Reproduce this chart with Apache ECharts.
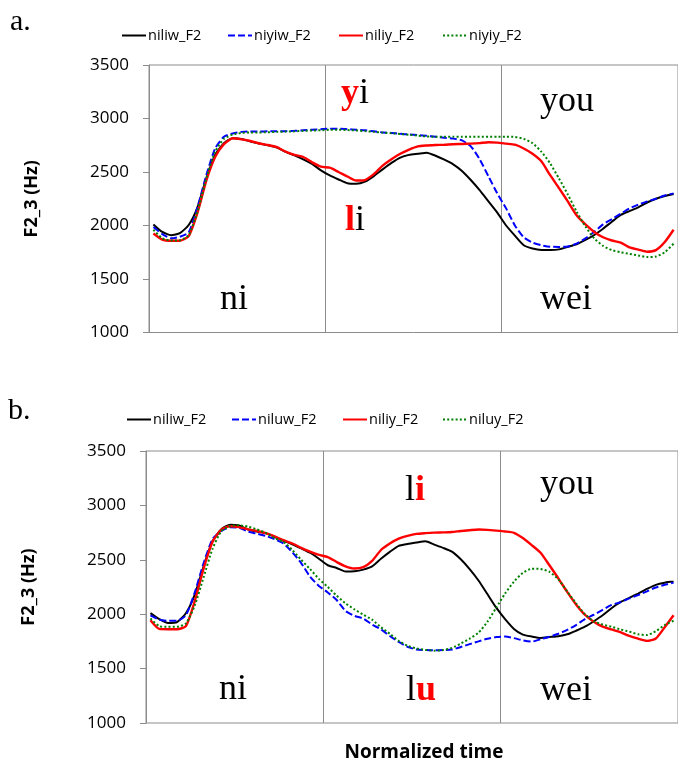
<!DOCTYPE html>
<html>
<head>
<meta charset="utf-8">
<script src="https://cdn.jsdelivr.net/npm/echarts@6/dist/echarts.min.js"></script>
<style>
  html, body { margin: 0; padding: 0; background: #fff; }
  #chart { width: 678px; height: 765px; }
</style>
</head>
<body>
<div id="chart"></div>
<script>
// F2 trajectories (Hz) sampled at 60 normalized time steps; 20 steps per syllable.
const steps = 60;
const syllableSteps = 20;
const yMin = 1000, yMax = 3500, yStep = 500;

// Panel a: niliw / niyiw / niliy / niyiy
const a_niliw = [2010,1940,1910,1928,2005,2170,2440,2660,2770,2815,2808,2785,2766,2750,2728,2688,2656,2618,2576,2515,
  2468,2430,2395,2390,2410,2462,2525,2585,2635,2660,2670,2680,2652,2615,2572,2510,2425,2330,2225,2120,
  2000,1905,1815,1785,1772,1772,1777,1800,1825,1865,1911,1970,2035,2098,2135,2170,2215,2250,2275,2295];
const a_niyiw = [1985,1920,1880,1895,1935,2170,2470,2720,2830,2860,2875,2878,2878,2880,2880,2882,2885,2890,2895,2900,
  2905,2905,2900,2895,2890,2880,2870,2865,2858,2850,2845,2838,2830,2820,2812,2795,2740,2620,2460,2300,
  2160,2000,1890,1840,1815,1802,1800,1803,1830,1880,1942,2010,2060,2110,2160,2195,2225,2250,2280,2300];
const a_niliy = [1925,1868,1857,1858,1900,2120,2420,2640,2760,2815,2805,2790,2766,2752,2732,2690,2660,2640,2590,2550,
  2540,2500,2458,2420,2425,2480,2560,2620,2670,2710,2740,2748,2752,2755,2760,2762,2765,2770,2778,2775,
  2765,2755,2720,2670,2600,2470,2350,2225,2095,2010,1940,1890,1860,1840,1795,1775,1755,1770,1845,1960];
const a_niyiy = [1960,1880,1860,1862,1910,2130,2440,2690,2810,2850,2865,2870,2870,2872,2875,2878,2880,2885,2888,2890,
  2895,2895,2892,2888,2882,2875,2868,2862,2855,2848,2840,2832,2830,2830,2830,2830,2830,2830,2830,2830,
  2830,2828,2810,2770,2690,2580,2440,2290,2130,1990,1880,1810,1770,1750,1735,1720,1705,1710,1750,1830];

// Panel b: niliw / niluw / niliy / niluy
const b_niliw = [2010,1955,1920,1928,2008,2180,2440,2670,2780,2823,2815,2778,2760,2745,2712,2675,2643,2605,2565,2510,
  2450,2425,2392,2395,2410,2440,2510,2573,2628,2645,2658,2670,2640,2610,2575,2505,2415,2310,2185,2060,
  1955,1865,1813,1795,1782,1790,1798,1815,1848,1885,1935,1990,2055,2110,2150,2190,2232,2270,2290,2300];
const b_niluw = [1990,1950,1940,1940,1990,2200,2470,2690,2765,2800,2795,2760,2740,2720,2690,2650,2570,2470,2345,2260,
  2200,2130,2030,1985,1960,1905,1860,1800,1745,1700,1675,1670,1668,1670,1675,1698,1725,1750,1775,1790,
  1795,1780,1760,1748,1770,1792,1820,1855,1900,1955,1995,2040,2085,2110,2145,2175,2210,2245,2270,2290];
const b_niliy = [1945,1865,1862,1862,1890,2120,2420,2665,2778,2808,2800,2780,2765,2745,2715,2680,2650,2610,2575,2545,
  2525,2480,2440,2420,2432,2490,2590,2650,2695,2720,2738,2745,2750,2752,2755,2765,2772,2778,2775,2768,
  2760,2748,2700,2635,2565,2450,2330,2205,2090,1995,1930,1885,1860,1835,1800,1775,1755,1777,1880,1990];
const b_niluy = [1960,1890,1884,1884,1915,2080,2340,2600,2765,2810,2818,2805,2780,2748,2700,2665,2590,2500,2415,2325,
  2250,2170,2100,2045,1995,1950,1880,1820,1755,1710,1685,1672,1665,1670,1690,1730,1775,1830,1930,2060,
  2190,2300,2380,2418,2415,2390,2320,2210,2100,2000,1935,1905,1885,1860,1840,1815,1808,1845,1900,1940];

const AXIS_GREY = '#8c8c8c';
const SANS = 'Open Sans';
const SERIF = 'Liberation Serif';

// line styles shared by both panels
const styles = {
  niliw_F2: { color: '#000000', width: 2,   type: 'solid' },
  niyiw_F2: { color: '#0000ff', width: 2,   type: [7, 3] },
  niluw_F2: { color: '#0000ff', width: 2,   type: [7, 3] },
  niliy_F2: { color: '#ff0000', width: 2.4, type: 'solid' },
  niyiy_F2: { color: '#008000', width: 2,   type: [2, 2.2] },
  niluy_F2: { color: '#008000', width: 2,   type: [2, 2.2] }
};

function toPoints(values) {
  return values.map((v, i) => [i + 0.5, v]);
}

function lineSeries(name, values, idx) {
  const s = styles[name];
  return {
    name: name,
    type: 'line',
    xAxisIndex: idx,
    yAxisIndex: idx,
    data: toPoints(values),
    symbol: 'none',
    smooth: 0.2,
    color: s.color,
    lineStyle: { color: s.color, width: s.width, type: s.type },
    emphasis: { disabled: true },
    z: 3
  };
}

function xAxisFor(idx, withName) {
  const ax = {
    type: 'value',
    gridIndex: idx,
    min: 0,
    max: steps,
    interval: syllableSteps,
    axisLine: { show: false },
    axisTick: { show: false },
    axisLabel: { show: false },
    splitLine: { show: true, lineStyle: { color: AXIS_GREY, width: 1 } }
  };
  if (withName) {
    ax.name = 'Normalized time';
    ax.nameLocation = 'middle';
    ax.nameGap = 20;
    ax.nameTextStyle = {
      fontFamily: SANS, fontWeight: 'bold', fontSize: 19, color: '#000',
      padding: [0, 0, 0, 24]
    };
  }
  return ax;
}

function yAxisFor(idx) {
  return {
    type: 'value',
    gridIndex: idx,
    min: yMin,
    max: yMax,
    interval: yStep,
    name: 'F2_3 (Hz)',
    nameLocation: 'middle',
    nameGap: 108,
    nameTextStyle: { fontFamily: SANS, fontWeight: 'bold', fontSize: 18, color: '#000' },
    axisLine: { show: true, lineStyle: { color: AXIS_GREY, width: 1 } },
    axisTick: { show: true, length: 6, lineStyle: { color: AXIS_GREY } },
    axisLabel: {
      fontFamily: SANS, fontSize: 17, color: '#000', margin: 20,
      formatter: (v) => String(v)
    },
    splitLine: { show: false }
  };
}

function legendItem(name, left, top) {
  return {
    data: [name],
    left: left,
    top: top,
    itemWidth: 24,
    itemHeight: 14,
    itemGap: 0,
    selectedMode: false,
    itemStyle: { opacity: 0 },
    textStyle: { fontFamily: SANS, fontSize: 14.5, color: '#000', padding: [0, 0, 0, -3] }
  };
}

// syllable labels drawn inside the panels
function syllable(left, baseline, rich) {
  return {
    type: 'text',
    left: left,
    top: baseline - 31,
    z: 10,
    silent: true,
    style: {
      text: rich,
      rich: {
        k: { fontFamily: SERIF, fontSize: 36, fill: '#000000', lineHeight: 40 },
        r: { fontFamily: SERIF, fontSize: 36, fill: '#ff0000', fontWeight: 'bold', lineHeight: 40 }
      }
    }
  };
}

function panelLetter(text, left, baseline) {
  return {
    type: 'text',
    left: left,
    top: baseline - 25,
    silent: true,
    style: { text: text, fontFamily: SERIF, fontSize: 30, fill: '#000' }
  };
}

const chart = echarts.init(document.getElementById('chart'), null, { renderer: 'canvas' });

chart.setOption({
  backgroundColor: '#ffffff',
  animation: false,
  grid: [
    { left: 149, top: 65, width: 537, height: 267.5, show: true, borderColor: AXIS_GREY, borderWidth: 1, backgroundColor: 'transparent' },
    { left: 146, top: 451, width: 542, height: 272, show: true, borderColor: AXIS_GREY, borderWidth: 1, backgroundColor: 'transparent' }
  ],
  xAxis: [xAxisFor(0, false), xAxisFor(1, true)],
  yAxis: [yAxisFor(0), yAxisFor(1)],
  legend: [
    legendItem('niliw_F2', 116, 23),
    legendItem('niyiw_F2', 222, 23),
    legendItem('niliy_F2', 333, 23),
    legendItem('niyiy_F2', 437, 23),
    legendItem('niliw_F2', 121, 407),
    legendItem('niluw_F2', 226, 407),
    legendItem('niliy_F2', 337, 407),
    legendItem('niluy_F2', 437, 407)
  ],
  series: [
    lineSeries('niliw_F2', a_niliw, 0),
    lineSeries('niyiw_F2', a_niyiw, 0),
    lineSeries('niliy_F2', a_niliy, 0),
    lineSeries('niyiy_F2', a_niyiy, 0),
    lineSeries('niliw_F2', b_niliw, 1),
    lineSeries('niluw_F2', b_niluw, 1),
    lineSeries('niliy_F2', b_niliy, 1),
    lineSeries('niluy_F2', b_niluy, 1)
  ],
  graphic: [
    panelLetter('a.', 10, 32),
    panelLetter('b.', 8, 421),
    syllable(220, 313, '{k|ni}'),
    syllable(341, 107, '{r|y}{k|i}'),
    syllable(345, 234, '{r|l}{k|i}'),
    syllable(540, 115, '{k|you}'),
    syllable(540, 313, '{k|wei}'),
    syllable(219, 703, '{k|ni}'),
    syllable(405, 504, '{k|l}{r|i}'),
    syllable(406, 704, '{k|l}{r|u}'),
    syllable(540, 498, '{k|you}'),
    syllable(540, 704, '{k|wei}')
  ]
});
</script>
</body>
</html>
